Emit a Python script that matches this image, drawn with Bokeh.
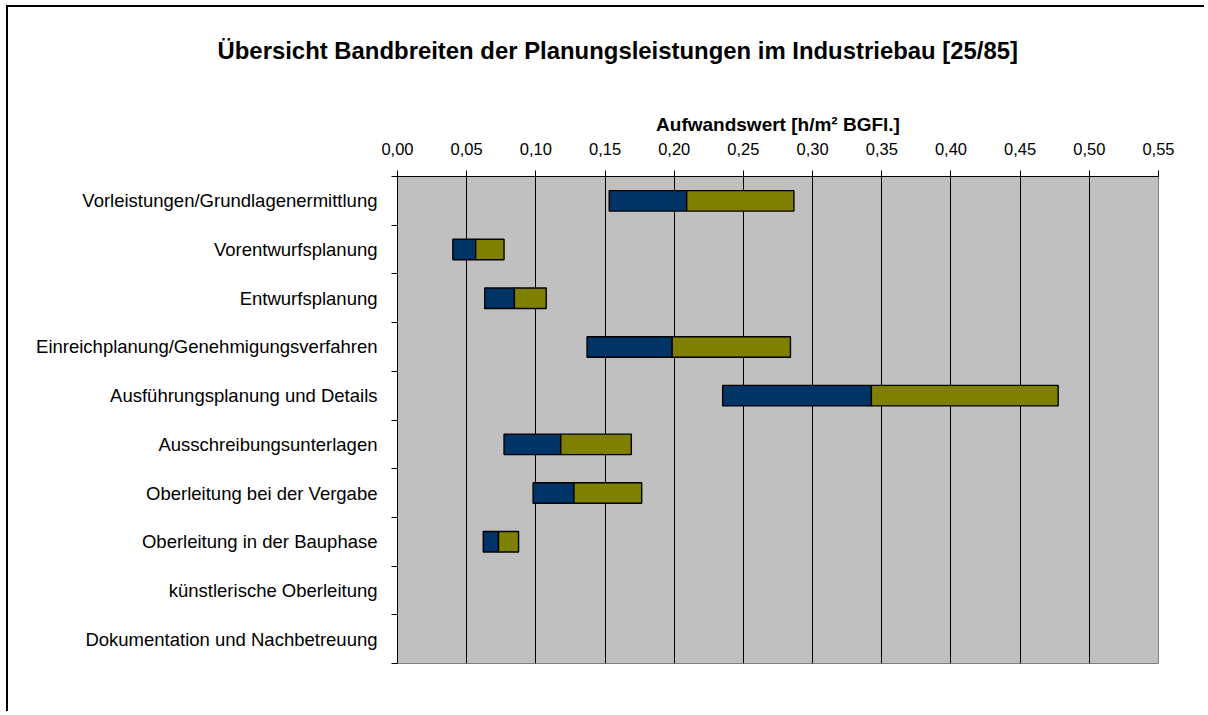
import numpy as np
from bokeh.plotting import figure
from bokeh.models import Range1d, FixedTicker, CustomJSTickFormatter, ColumnDataSource, Title
from bokeh.embed import file_html
from bokeh.resources import INLINE

categories = [
    "Vorleistungen/Grundlagenermittlung",
    "Vorentwurfsplanung",
    "Entwurfsplanung",
    "Einreichplanung/Genehmigungsverfahren",
    "Ausführungsplanung und Details",
    "Ausschreibungsunterlagen",
    "Oberleitung bei der Vergabe",
    "Oberleitung in der Bauphase",
    "künstlerische Oberleitung",
    "Dokumentation und Nachbetreuung",
]
nan = float("nan")
min_vals = [0.153, 0.040, 0.063, 0.137, 0.235, 0.077, 0.098, 0.062, nan, nan]
mid_vals = [0.209, 0.0565, 0.0845, 0.1985, 0.3425, 0.118, 0.1275, 0.073, nan, nan]
max_vals = [0.2865, 0.077, 0.1075, 0.284, 0.4775, 0.169, 0.1765, 0.0875, nan, nan]
x_ticks = [0.00, 0.05, 0.10, 0.15, 0.20, 0.25, 0.30, 0.35, 0.40, 0.45, 0.50, 0.55]

n = len(categories)
centers = [i + 0.5 for i in range(n)]
bounds = [float(i) for i in range(n + 1)]

src = ColumnDataSource(dict(y=centers, lo=min_vals, mid=mid_vals, hi=max_vals))

FONT = "Liberation Sans"

p = figure(
    width=1198, height=706,
    x_range=Range1d(0, 0.55), y_range=Range1d(n, 0),
    x_axis_location="above",
    output_backend="svg", toolbar_location=None,
    min_border_left=389, min_border_top=169, min_border_right=48, min_border_bottom=50,
    background_fill_color="#C0C0C0", border_fill_color="white",
    outline_line_color="#808080",
    styles={"margin-left": "6px", "margin-top": "5px",
            "border-left": "2px solid black", "border-top": "2px solid black"},
)

p.hbar(y="y", left="lo", right="mid", height=0.42, source=src,
       fill_color="#003366", line_color="black", line_width=1.4)
p.hbar(y="y", left="mid", right="hi", height=0.42, source=src,
       fill_color="#808000", line_color="black", line_width=1.4)

# spacer between axis label and title
p.add_layout(Title(text=" ", text_font_size="2px", standoff=38), "above")

# title
p.title.text = "Übersicht Bandbreiten der Planungsleistungen im Industriebau [25/85]"
p.title.text_font = FONT
p.title.text_font_size = "23.9px"
p.title.text_font_style = "bold"
p.title.text_color = "black"
p.title.align = "left"
p.title.offset = -180
p.title.standoff = 10

# x axis
xa = p.xaxis[0]
xa.ticker = FixedTicker(ticks=x_ticks, minor_ticks=[])
xa.formatter = CustomJSTickFormatter(code="return tick.toFixed(2).replace('.', ',')")
xa.axis_label = "Aufwandswert [h/m² BGFl.]"
xa.axis_label_text_font = FONT
xa.axis_label_text_font_size = "19px"
xa.axis_label_text_font_style = "bold"
xa.axis_label_text_color = "black"
xa.axis_label_standoff = 5
xa.major_label_text_font = FONT
xa.major_label_text_font_size = "16.5px"
xa.major_label_text_color = "black"
xa.major_label_standoff = 16
xa.major_tick_out = 6
xa.major_tick_in = 0
xa.axis_line_color = "black"
xa.major_tick_line_color = "black"

# y axis
ya = p.yaxis[0]
ya.ticker = FixedTicker(ticks=centers, minor_ticks=bounds)
ya.formatter = CustomJSTickFormatter(args=dict(names=categories),
                                     code="return names[Math.floor(tick)]")
ya.major_label_text_font = FONT
ya.major_label_text_font_size = "18.5px"
ya.major_label_text_color = "black"
ya.major_label_standoff = 14
ya.major_tick_out = 0
ya.major_tick_in = 0
ya.minor_tick_out = 6
ya.minor_tick_in = 0
ya.minor_tick_line_color = "black"
ya.axis_line_color = "black"

p.xgrid.grid_line_color = "black"
p.xgrid.ticker = FixedTicker(ticks=x_ticks)
p.ygrid.visible = False

open("out.html", "w").write(file_html(p, INLINE))
